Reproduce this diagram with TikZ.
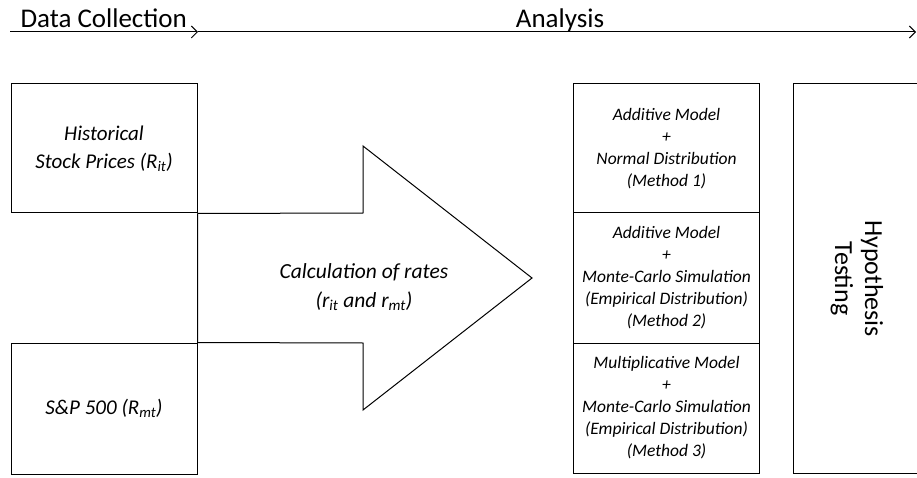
\documentclass[tikz,border=0pt]{standalone}
\usepackage{fontspec}
\setmainfont{Carlito}
\usetikzlibrary{arrows.meta}

\begin{document}
\begin{tikzpicture}[x=1pt, y=1pt,
        frame/.style={draw, line width=1pt},
        stage/.style={frame, rectangle, inner sep=0pt, minimum width=186pt, align=center,
            font=\fontsize{21}{28}\selectfont\itshape},
        method/.style={stage, minimum height=130pt, font=\fontsize{17.5}{22}\selectfont\itshape},
        phase/.style={font=\fontsize{27}{30}\selectfont},
        timeline/.style={frame, -{Straight Barb[length=6pt, width=12pt]}}]
        \useasboundingbox (0, 0) rectangle (917, 477);

        % time line
        \coordinate (start) at (10, 445);
        \coordinate (split) at (198, 445);
        \coordinate (finish) at (916, 445);
        \node[phase, anchor=base west] (collect) at (17, 449) {Data Collection};
        \node[phase, anchor=base] (analysis) at (560, 449) {Analysis};
        \draw[timeline] (start) -- (split);
        \draw[timeline] (split) -- (finish);

        % data sources
        \node[stage, minimum height=129pt] (stock) at (104, 328.5)
            {Historical\\Stock Prices (R\textsubscript{it})};
        \node[stage, minimum height=131pt] (index) at (104, 68.5)
            {S\&P 500 (R\textsubscript{mt})};

        % big arrow
        \coordinate (shaft_top) at (363, 264);
        \coordinate (head_top) at (363, 331);
        \coordinate (tip) at (532, 199);
        \coordinate (head_bot) at (363, 67);
        \coordinate (shaft_bot) at (363, 134);
        \draw[frame] (stock.south east) -- (shaft_top) -- (head_top) -- (tip)
            -- (head_bot) -- (shaft_bot) -- (index.north east) -- (stock.south east);
        \node[align=center, font=\fontsize{21.5}{28.5}\selectfont\itshape] (calc) at (364, 190)
            {Calculation of rates\\(r\textsubscript{it} and r\textsubscript{mt})};

        % methods
        \node[method, minimum height=129pt] (meth1) at (666.5, 328.5)
            {Additive Model\\+\\Normal Distribution\\(Method 1)};
        \node[method] (meth2) at (666.5, 199)
            {Additive Model\\+\\Monte-Carlo Simulation\\(Empirical Distribution)\\(Method 2)};
        \node[method] (meth3) at (666.5, 69)
            {Multiplicative Model\\+\\Monte-Carlo Simulation\\(Empirical Distribution)\\(Method 3)};

        % testing
        \node[frame, rectangle, inner sep=0pt, rotate=-90, minimum width=389pt, minimum height=128pt,
            align=center, font=\fontsize{26}{30}\selectfont] (test) at (857, 198.5)
            {Hypothesis\\Testing};
    \end{tikzpicture}
\end{document}
